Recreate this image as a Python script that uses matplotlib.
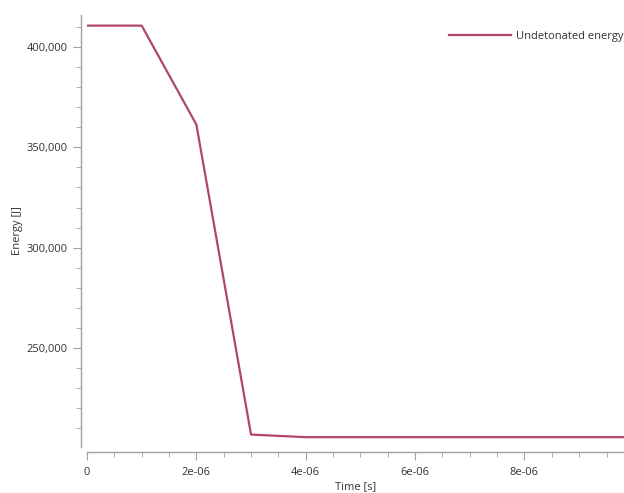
import matplotlib
matplotlib.use('Agg')
import matplotlib.pyplot as plt
from matplotlib.ticker import MultipleLocator, FuncFormatter

# Energy history of the explosive
time_s = [0.0, 1e-06, 2e-06, 3e-06, 4e-06, 5e-06, 6e-06, 7e-06, 8e-06, 9e-06, 1e-05]
energy_j = [410700, 410700, 361400, 206800, 205500, 205500, 205500, 205500, 205500, 205500, 205500]

plt.rcParams['font.family'] = ['Open Sans', 'DejaVu Sans']
plt.rcParams['font.size'] = 8

fig = plt.figure(figsize=(6.24, 4.93), dpi=100)
ax = fig.add_axes([87 / 624, 1 - 447 / 493, 1 - 87 / 624, (447 - 15) / 493])

ax.plot(time_s, energy_j, color='#b0466c', linewidth=1.6, label='Undetonated energy')

ax.set_xlim(0, 9.82e-06)
ax.set_ylim(200600, 416000)

ax.xaxis.set_major_locator(MultipleLocator(2e-06))
ax.xaxis.set_minor_locator(MultipleLocator(5e-07))
ax.yaxis.set_major_locator(MultipleLocator(50000))
ax.yaxis.set_minor_locator(MultipleLocator(10000))
ax.xaxis.set_major_formatter(FuncFormatter(lambda v, p: '0' if v == 0 else f'{v:.0e}'))
ax.yaxis.set_major_formatter(FuncFormatter(lambda v, p: f'{v:,.0f}'))

for s in ['top', 'right']:
    ax.spines[s].set_visible(False)
ax.spines['left'].set_position(('outward', 4.3))
ax.spines['bottom'].set_position(('outward', 3.6))
for s in ['left', 'bottom']:
    ax.spines[s].set_color('#a0a0a0')
    ax.spines[s].set_linewidth(1.0)

ax.tick_params(which='major', length=6, color='#a0a0a0', labelcolor='#333333', labelsize=8)
ax.tick_params(which='minor', length=3.5, color='#a0a0a0')
ax.tick_params(axis='x', which='major', pad=4.5)

ax.set_xlabel('Time [s]', color='#333333')
ax.set_ylabel('Energy [J]', color='#333333', labelpad=3)
ax.xaxis.set_label_coords(0.5, -0.08)

ax.legend(loc='center right', frameon=False, handlelength=5.6, handletextpad=0.4,
          borderpad=0, borderaxespad=0, labelcolor='#333333',
          bbox_to_anchor=(623 / 624, 1 - 36 / 493), bbox_transform=fig.transFigure)

fig.savefig('out.png', dpi=100)
